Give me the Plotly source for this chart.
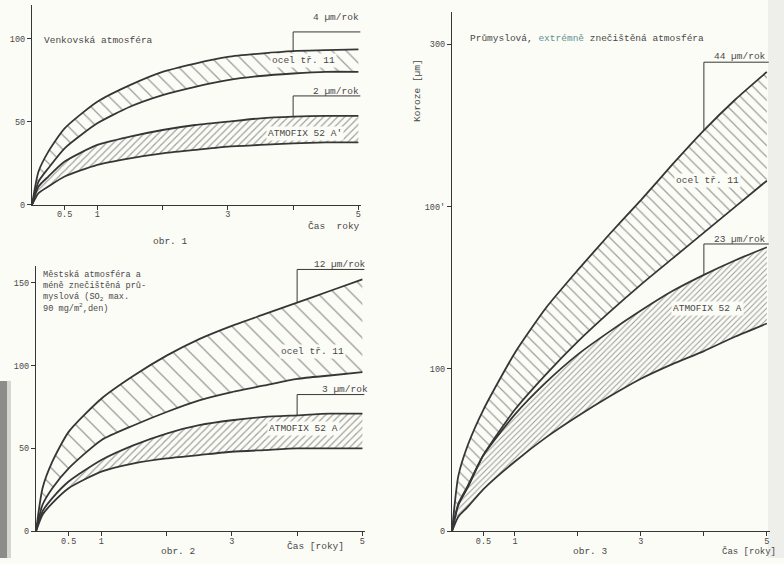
import plotly.graph_objects as go
import numpy as np

# ---------------- data ----------------
T = [0, 0.1, 0.25, 0.5, 1, 1.5, 2, 2.5, 3, 3.5, 4, 4.5, 5]

# obr. 1 – Venkovská atmosféra
p1_ocel_hi = [0, 20, 32, 46, 62, 72, 80, 85, 89, 91, 92.5, 93, 93.5]
p1_ocel_lo = [0, 14, 22, 34, 49, 59, 66, 71, 75, 77.5, 79, 80, 80]
p1_atm_hi = [0, 11, 17, 26, 36, 41, 45, 48, 50, 52, 53, 53.5, 53.5]
p1_atm_lo = [0, 7, 11, 17, 24, 28, 31, 33, 35, 36, 37, 37.5, 37.5]

# obr. 2 – Městská atmosféra
p2_ocel_hi = [0, 26, 42, 60, 80, 94, 106, 116, 124, 131, 138, 145, 152]
p2_ocel_lo = [0, 16, 26, 38, 55, 64, 72, 79, 84, 88, 92, 94, 96]
p2_atm_hi = [0, 12, 20, 30, 43, 52, 59, 64, 67, 69, 70, 71, 71]
p2_atm_lo = [0, 10, 17, 26, 36, 41, 44, 46, 48, 49, 50, 50, 50]

# obr. 3 – Průmyslová atmosféra
p3_ocel_hi = [0, 34, 53, 75, 110, 138, 161, 183, 204, 226, 247, 266, 283]
p3_ocel_lo = [0, 16, 27, 47, 75, 97, 117, 135, 152, 168, 184, 200, 216]
p3_atm_hi = [0, 17, 28, 47, 72, 92, 109, 123, 136, 148, 158, 167, 175]
p3_atm_lo = [0, 9, 15, 26, 43, 58, 71, 83, 94, 103, 111, 120, 128]

x_tickvals = [0.5, 1, 3, 5]
x_ticktext = ["0.5", "1", "3", "5"]
x_minor = [2, 4]
y1_ticks = [0, 50, 100]
y1_text = ["0", "50", "100"]
y2_ticks = [0, 50, 100, 150]
y2_text = ["0", "50", "100", "150"]
y3_ticks = [0, 100, 200, 300]
y3_text = ["0", "100", "100'", "300"]

rates = {
    "p1": ["4 µm/rok", "2 µm/rok"],
    "p2": ["12 µm/rok", "3 µm/rok"],
    "p3": ["44 µm/rok", "23 µm/rok"],
}
label_ocel = "ocel tř. 11"
label_atm = "ATMOFIX 52 A"

# ---------------- styling / layout helpers ----------------
W, H = 784, 564
LINE = "#363636"
HATCH = "#3c3c3c"
TXT = "#484848"
PAPER = "#fcfcf7"
FONT = "Liberation Mono"


def fx(p):
    return p / W


def fy(p):
    return 1 - p / H


fig = go.Figure()


def band(lo, hi, xa, ya, shape, size, sol):
    fig.add_trace(go.Scatter(
        x=T, y=lo, mode="lines", xaxis=xa, yaxis=ya,
        line=dict(color=LINE, width=1.8, shape="spline", smoothing=0.6),
        showlegend=False, hoverinfo="skip"))
    fig.add_trace(go.Scatter(
        x=T, y=hi, mode="lines", xaxis=xa, yaxis=ya, fill="tonexty",
        fillcolor="rgba(0,0,0,0)",
        fillpattern=dict(shape=shape, fgcolor=HATCH, size=size, solidity=sol),
        line=dict(color=LINE, width=1.8, shape="spline", smoothing=0.6),
        showlegend=False, hoverinfo="skip"))


band(p1_ocel_lo, p1_ocel_hi, "x", "y", "\\", 10, 0.13)
band(p1_atm_lo, p1_atm_hi, "x", "y", "/", 5, 0.22)
band(p2_ocel_lo, p2_ocel_hi, "x2", "y2", "\\", 12, 0.11)
band(p2_atm_lo, p2_atm_hi, "x2", "y2", "/", 5, 0.22)
band(p3_ocel_lo, p3_ocel_hi, "x3", "y3", "\\", 8, 0.15)
band(p3_atm_lo, p3_atm_hi, "x3", "y3", "/", 4, 0.27)

# bracket lines for rates (vertical from curve at t=4, then to t=5)
shapes = []


def bracket(xref, yref, curve, level):
    v = float(np.interp(4, T, curve))
    shapes.append(dict(type="line", xref=xref, yref=yref, x0=4, x1=4, y0=v, y1=level,
                       line=dict(color=LINE, width=1)))
    shapes.append(dict(type="line", xref=xref, yref=yref, x0=4, x1=5.03, y0=level, y1=level,
                       line=dict(color=LINE, width=1)))


bracket("x", "y", p1_ocel_hi, 104)
bracket("x", "y", p1_atm_hi, 65.5)
bracket("x2", "y2", p2_ocel_hi, 158)
bracket("x2", "y2", p2_atm_hi, 82.5)
bracket("x3", "y3", p3_ocel_hi, 289)
bracket("x3", "y3", p3_atm_hi, 177)

# scan shadows at the edges
shapes.append(dict(type="rect", xref="paper", yref="paper", x0=0, x1=fx(7), y0=0, y1=fy(385),
                   fillcolor="#8c8c88", line=dict(width=0), layer="below"))
shapes.append(dict(type="rect", xref="paper", yref="paper", x0=fx(7), x1=fx(11), y0=0, y1=fy(385),
                   fillcolor="#d6d6d0", line=dict(width=0), layer="below"))
shapes.append(dict(type="rect", xref="paper", yref="paper", x0=fx(768), x1=1, y0=0, y1=1,
                   fillcolor="#eeeeea", line=dict(width=0), layer="below"))

ann = []


def text(x, y, s, xa="left", size=9.5, bg=None, angle=0, ya="middle"):
    d = dict(xref="paper", yref="paper", x=fx(x), y=fy(y), text=s, showarrow=False,
             xanchor=xa, yanchor=ya, align="left", font=dict(family=FONT, size=size, color=TXT),
             textangle=angle)
    if bg:
        d.update(bgcolor=bg, borderpad=1)
    ann.append(d)


# panel 1
text(42, 41, "Venkovská atmosféra")
text(303, 61, label_ocel, xa="center", bg=PAPER)
text(305, 135, label_atm + "'", xa="center", bg=PAPER)
text(361, 18, rates["p1"][0], xa="right")
text(361, 92, rates["p1"][1], xa="right")
text(362, 229, "Čas  roky", xa="right")
text(170, 244, "obr. 1", xa="center")

# panel 2
text(41, 271, "Městská atmosféra a<br>méně znečištěná prů-<br>myslová (SO<sub>2</sub> max.<br>"
     "90 mg/m<sup>2</sup>,den)", size=8.6, ya="top")
text(368, 267, rates["p2"][0], xa="right")
text(312, 355, label_ocel, xa="center", bg=PAPER)
text(370, 394, rates["p2"][1], xa="right")
text(303, 433, label_atm, xa="center", bg=PAPER)
text(346, 552, "Čas [roky]", xa="right")
text(178, 557, "obr. 2", xa="center")

# panel 3
text(468, 39, "Průmyslová, <span style='color:#5f9090'>extrémně</span> znečištěná atmosféra")
text(768, 57, rates["p3"][0], xa="right")
text(707, 182, label_ocel, xa="center", bg=PAPER)
text(768, 242, rates["p3"][1], xa="right")
text(707, 312, label_atm, xa="center", bg=PAPER)
text(749, 557, "Čas [roky]", xa="center", size=9)
text(590, 557, "obr. 3", xa="center")
text(417, 92, "Koroze [µm]", xa="center", angle=-90)

axis_common = dict(showline=True, linecolor=LINE, linewidth=1.4, showgrid=False, zeroline=False,
                   ticks="outside", ticklen=4, tickcolor=LINE, tickwidth=1,
                   tickfont=dict(family=FONT, size=8.5, color=TXT), fixedrange=True)
x_common = dict(tickvals=x_tickvals, ticktext=x_ticktext, ticklabelstandoff=-3,
                minor=dict(tickmode="array", tickvals=x_minor, ticks="outside",
                           ticklen=4, tickcolor=LINE, tickwidth=1),
                **axis_common)

fig.update_layout(
    width=W, height=H,
    margin=dict(l=0, r=0, t=0, b=0),
    paper_bgcolor=PAPER, plot_bgcolor="rgba(0,0,0,0)",
    showlegend=False,
    xaxis=dict(domain=[fx(32), fx(361)], range=[0, 5.04], anchor="y", **x_common),
    yaxis=dict(domain=[fy(207), fy(5.4)], range=[0, 120], anchor="x",
               tickvals=y1_ticks, ticktext=y1_text, **axis_common),
    xaxis2=dict(domain=[fx(36), fx(365)], range=[0, 5.04], anchor="y2", **x_common),
    yaxis2=dict(domain=[fy(537), fy(269)], range=[0, 160], anchor="x2",
                tickvals=y2_ticks, ticktext=y2_text, **axis_common),
    xaxis3=dict(domain=[fx(452), fx(770)], range=[0, 5.05], anchor="y3", **x_common),
    yaxis3=dict(domain=[fy(537), fy(12)], range=[0, 320], anchor="x3",
                tickvals=y3_ticks, ticktext=y3_text, **axis_common),
    shapes=shapes,
    annotations=ann,
)

fig.write_html("out.html",
               config={"displayModeBar": False},
               post_script="document.body.style.margin='0';"
                           "document.body.style.overflow='hidden';")
